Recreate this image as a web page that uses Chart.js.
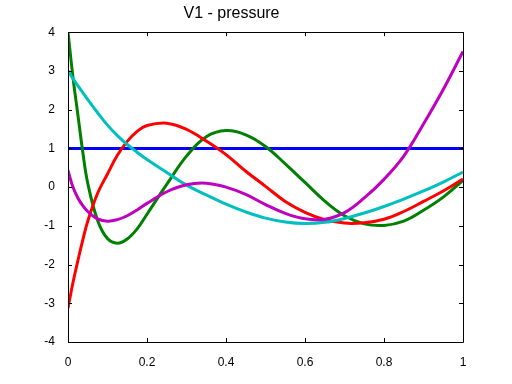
<!DOCTYPE html>
<html>
<head>
<meta charset="utf-8">
<script src="https://cdn.jsdelivr.net/npm/chart.js@4/dist/chart.umd.min.js"></script>
<style>
html,body{margin:0;padding:0;background:#fff;}
#wrap{width:512px;height:384px;}
</style>
</head>
<body>
<div id="wrap"><canvas id="c" width="512" height="384"></canvas></div>
<script>
const title = "V1 - pressure";
const xs = [0, 0.0125, 0.025, 0.0375, 0.05, 0.075, 0.1, 0.125, 0.15, 0.175, 0.2, 0.25, 0.3, 0.35, 0.4, 0.45, 0.5, 0.55, 0.6, 0.65, 0.7, 0.75, 0.8, 0.85, 0.9, 0.95, 1];
const blueVals    = [1,1,1,1,1,1,1,1,1,1,1,1,1,1,1,1,1,1,1,1,1,1,1,1,1,1,1];
const greenVals   = [4.0, 2.84, 1.87, 0.9, 0.1, -0.86, -1.33, -1.45, -1.34, -1.08, -0.7, 0.07, 0.8, 1.3, 1.46, 1.35, 1.05, 0.6, 0.12, -0.36, -0.74, -0.95, -0.99, -0.88, -0.6, -0.26, 0.17];
const redVals     = [-3.12, -2.47, -1.9, -1.36, -0.88, -0.16, 0.34, 0.82, 1.18, 1.44, 1.59, 1.65, 1.49, 1.19, 0.84, 0.41, 0.02, -0.37, -0.65, -0.84, -0.93, -0.92, -0.83, -0.63, -0.37, -0.1, 0.21];
const cyanVals    = [3.0, 2.8, 2.62, 2.44, 2.26, 1.92, 1.6, 1.33, 1.1, 0.9, 0.71, 0.38, 0.05, -0.2, -0.44, -0.64, -0.8, -0.9, -0.94, -0.91, -0.81, -0.67, -0.5, -0.31, -0.1, 0.13, 0.39];
const magentaVals = [0.43, 0.0, -0.28, -0.48, -0.63, -0.82, -0.88, -0.84, -0.74, -0.59, -0.42, -0.12, 0.06, 0.1, 0.0, -0.19, -0.45, -0.68, -0.82, -0.83, -0.66, -0.28, 0.2, 0.8, 1.63, 2.52, 3.5];
const xTicks = [0, 0.2, 0.4, 0.6, 0.8, 1];
const yTicks = [-4, -3, -2, -1, 0, 1, 2, 3, 4];

function pts(vals){ return xs.map((x,i)=>({x:x, y:vals[i]})); }
function ds(vals, color, order){
  return {data: pts(vals), borderColor: color, backgroundColor: color, borderWidth: 3,
    pointRadius: 0, fill: false, tension: 0.4, order: order};
}

const boxPlugin = {
  id: 'boxTicks',
  afterDatasetsDraw(chart){
    const {ctx, chartArea: a, scales} = chart;
    ctx.save();
    ctx.strokeStyle = '#000';
    ctx.lineWidth = 1;
    ctx.beginPath();
    ctx.rect(Math.round(a.left)+0.5, Math.round(a.top)+0.5, Math.round(a.right-a.left), Math.round(a.bottom-a.top));
    ctx.stroke();
    const L = 4;
    ctx.beginPath();
    xTicks.forEach(v=>{
      const px = Math.round(scales.x.getPixelForValue(v))+0.5;
      ctx.moveTo(px, a.bottom); ctx.lineTo(px, a.bottom-L);
      ctx.moveTo(px, a.top); ctx.lineTo(px, a.top+L);
    });
    yTicks.forEach(v=>{
      const py = Math.round(scales.y.getPixelForValue(v))+0.5;
      ctx.moveTo(a.left, py); ctx.lineTo(a.left+L, py);
      ctx.moveTo(a.right, py); ctx.lineTo(a.right-L, py);
    });
    ctx.stroke();
    ctx.restore();
  }
};

new Chart(document.getElementById('c'), {
  type: 'line',
  data: { datasets: [
    ds(blueVals, '#0000ff', 5),
    ds(greenVals, '#008000', 4),
    ds(redVals, '#ff0000', 3),
    ds(cyanVals, '#00bfbf', 2),
    ds(magentaVals, '#bf00bf', 1)
  ]},
  options: {
    responsive: false,
    animation: false,
    devicePixelRatio: 1,
    layout: { padding: { left: 0, right: 49, top: 0, bottom: 0 } },
    plugins: {
      legend: { display: false },
      tooltip: { enabled: false },
      title: { display: true, text: title, color: '#000',
        font: { family: '"Liberation Sans", Arial, sans-serif', size: 16, weight: 'normal' },
        padding: { top: 4, bottom: 9 } }
    },
    scales: {
      x: { type: 'linear', min: 0, max: 1,
        grid: { display: false }, border: { display: false },
        afterBuildTicks(s){ s.ticks = xTicks.map(v=>({value:v})); },
        afterFit(s){ s.height = 42; },
        ticks: { color: '#000', padding: 5, maxRotation: 0,
          font: { family: '"Liberation Sans", Arial, sans-serif', size: 12 },
          callback: v => String(v) } },
      y: { type: 'linear', min: -4, max: 4,
        grid: { display: false }, border: { display: false },
        afterBuildTicks(s){ s.ticks = yTicks.map(v=>({value:v})); },
        afterFit(s){ s.width = 68; },
        ticks: { color: '#000', padding: 5,
          font: { family: '"Liberation Sans", Arial, sans-serif', size: 12 },
          callback: v => String(v) } }
    }
  },
  plugins: [boxPlugin]
});
</script>
</body>
</html>
